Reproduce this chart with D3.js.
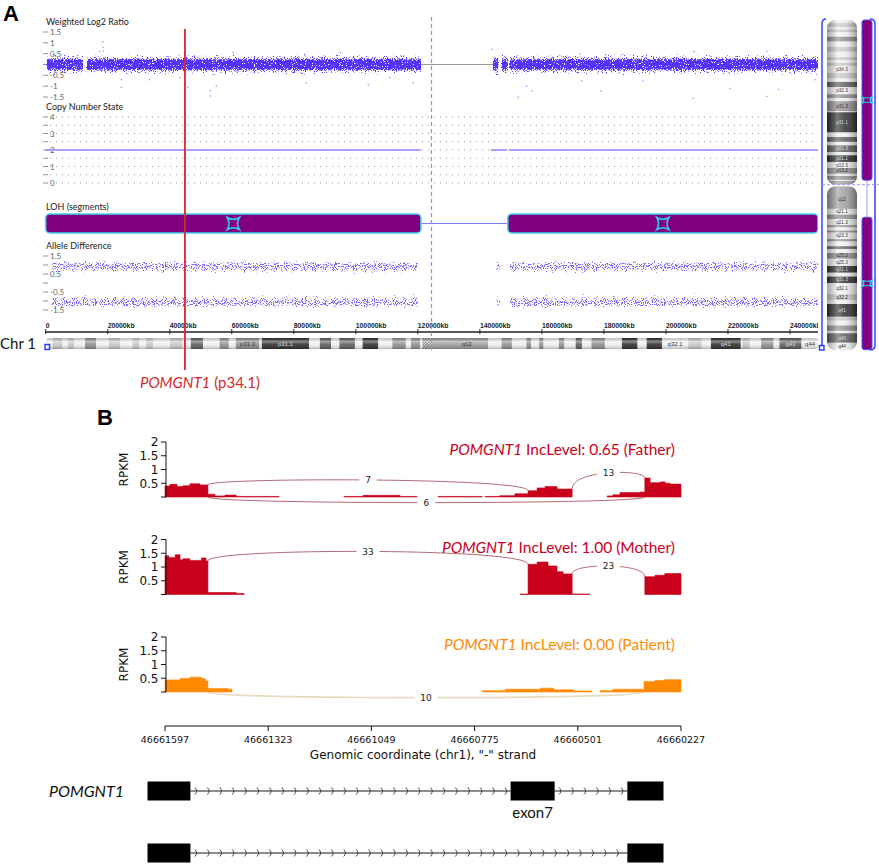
<!DOCTYPE html>
<html>
<head>
<meta charset="utf-8">
<script src="https://cdn.jsdelivr.net/npm/d3@7"></script>
<style>
  body { margin: 0; background: #fff; }
  svg { display: block; }
</style>
</head>
<body>
<svg id="fig" width="879" height="868"></svg>
<script>
// ---- panel A data (positions in Mb along chr1) ----
const chrLengthMb = 249.25;
const centromereMb = 124.4;
const geneMarkMb = 44.9;
const axisTicksKb = [0, 20000, 40000, 60000, 80000, 100000, 120000, 140000, 160000, 180000, 200000, 220000, 240000];

const cytoBands = [
  ['p36.33', 0, 2.3, 'gneg'], ['p36.32', 2.3, 5.4, 'gpos25'], ['p36.31', 5.4, 7.2, 'gneg'],
  ['p36.23', 7.2, 9.2, 'gpos25'], ['p36.22', 9.2, 12.7, 'gneg'], ['p36.21', 12.7, 16.2, 'gpos50'],
  ['p36.13', 16.2, 20.4, 'gneg'], ['p36.12', 20.4, 23.9, 'gpos25'], ['p36.11', 23.9, 28.0, 'gneg'],
  ['p35.3', 28.0, 30.2, 'gpos25'], ['p35.2', 30.2, 32.4, 'gneg'], ['p35.1', 32.4, 34.6, 'gpos25'],
  ['p34.3', 34.6, 40.1, 'gneg'], ['p34.2', 40.1, 44.1, 'gpos25'], ['p34.1', 44.1, 46.8, 'gneg'],
  ['p33', 46.8, 50.7, 'gpos75'], ['p32.3', 50.7, 56.1, 'gneg'], ['p32.2', 56.1, 59.0, 'gpos50'],
  ['p32.1', 59.0, 61.3, 'gneg'], ['p31.3', 61.3, 68.9, 'gpos50'], ['p31.2', 68.9, 69.7, 'gneg'],
  ['p31.1', 69.7, 84.9, 'gpos100'], ['p22.3', 84.9, 88.4, 'gneg'], ['p22.2', 88.4, 92.0, 'gpos75'],
  ['p22.1', 92.0, 94.7, 'gneg'], ['p21.3', 94.7, 99.7, 'gpos75'], ['p21.2', 99.7, 102.2, 'gneg'],
  ['p21.1', 102.2, 107.2, 'gpos100'], ['p13.3', 107.2, 111.8, 'gneg'], ['p13.2', 111.8, 116.1, 'gpos50'],
  ['p13.1', 116.1, 117.8, 'gneg'], ['p12', 117.8, 120.7, 'gpos50'], ['p11.2', 120.7, 121.5, 'gneg'],
  ['p11.1', 121.5, 125.0, 'acen'], ['q11', 125.0, 128.9, 'gvar'], ['q12', 128.9, 142.6, 'gvar'],
  ['q21.1', 142.6, 147.0, 'gneg'], ['q21.2', 147.0, 150.3, 'gpos50'], ['q21.3', 150.3, 155.0, 'gneg'],
  ['q22', 155.0, 156.5, 'gpos50'], ['q23.1', 156.5, 159.1, 'gneg'], ['q23.2', 159.1, 160.5, 'gpos50'],
  ['q23.3', 160.5, 165.5, 'gneg'], ['q24.1', 165.5, 167.2, 'gpos50'], ['q24.2', 167.2, 170.9, 'gneg'],
  ['q24.3', 170.9, 172.9, 'gpos75'], ['q25.1', 172.9, 176.0, 'gneg'], ['q25.2', 176.0, 180.3, 'gpos50'],
  ['q25.3', 180.3, 185.8, 'gneg'], ['q31.1', 185.8, 190.8, 'gpos100'], ['q31.2', 190.8, 193.8, 'gneg'],
  ['q31.3', 193.8, 198.7, 'gpos100'], ['q32.1', 198.7, 207.2, 'gneg'], ['q32.2', 207.2, 211.5, 'gpos25'],
  ['q32.3', 211.5, 214.5, 'gneg'], ['q41', 214.5, 224.1, 'gpos100'], ['q42.11', 224.1, 224.6, 'gneg'],
  ['q42.12', 224.6, 227.0, 'gpos25'], ['q42.13', 227.0, 230.7, 'gneg'], ['q42.2', 230.7, 234.7, 'gpos50'],
  ['q42.3', 234.7, 236.6, 'gneg'], ['q43', 236.6, 243.7, 'gpos75'], ['q44', 243.7, 249.25, 'gneg']
];
const bandLabelsH = ['p31.3', 'p31.1', 'q12', 'q32.1', 'q41', 'q43', 'q44'];
const bandLabelsV = ['p34.3', 'p32.3', 'p31.3', 'p31.1', 'p21.3', 'p21.1', 'p13.3', 'p13.2', 'q12', 'q21.1',
  'q21.3', 'q23.3', 'q25.2', 'q25.3', 'q31.1', 'q31.3', 'q32.1', 'q32.2', 'q41', 'q43', 'q44'];

// [startMb, endMb, centre, half-width]
const log2Segments = [[0.3, 12.0, 0, 0.5], [13.2, 121.0, 0, 0.5], [144.2, 146.0, 0, 0.55], [147.0, 149.0, 0, 0.55], [149.5, 249.0, 0, 0.5]];
const log2Outliers = [
  [18.5, 1.05], [18.5, 0.8], [18.6, 0.62], [17.4, 0.6], [24.4, -0.7], [24.4, -1.05], [33.5, -0.7], [43.2, -0.6],
  [45.8, -1.05], [53.1, -1.45], [53.1, -1.2], [55.0, -1.0], [60.4, 0.55], [84.0, -0.85], [95.0, 0.55],
  [104.0, -0.93], [111.0, -0.6], [118.5, -0.85], [144.0, 0.7], [152.4, -1.5], [155.0, -1.0], [156.7, -1.23],
  [172.2, 0.5], [172.8, -0.75], [179.0, -1.23], [192.5, -0.75], [208.8, -1.55], [209.0, 0.6], [220.6, -1.1],
  [232.5, -1.47], [232.5, 0.6], [236.3, -1.15], [248.0, -0.7]
];
const log2Ticks = [1.5, 1, 0.5, 0, -0.5, -1, -1.5];
const log2Gap = [121.0, 144.2];

const cnLevels = [4, 3.5, 3, 2.5, 2, 1.5, 1, 0.5, 0];
const cnLabels = [4, 3, 2, 1, 0];
const cnSegments = [[0, 121.0, 2], [143.5, 148.8, 2], [149.4, 249.0, 2]];

const lohSegments = [[0, 121.0], [149.0, 249.0]];

const alleleSegments = [
  [2.0, 120.0, 0.9, 0.55], [2.0, 120.0, -1.05, 0.55],
  [145.3, 146.5, 0.9, 0.55], [145.3, 146.5, -1.05, 0.55],
  [149.7, 249.0, 0.9, 0.55], [149.7, 249.0, -1.05, 0.55]
];
const alleleTicks = [1.5, 1, 0.5, 0, -0.5, -1, -1.5];
const alleleLabels = [1.5, 0.5, -0.5, -1.5];

// ---- panel B data (chr1 coordinates, "-" strand so left is larger) ----
const regionStart = 46661597;
const regionEnd = 46660227;
const coordTicks = [46661597, 46661323, 46661049, 46660775, 46660501, 46660227];
const rpkmTicks = [0, 0.5, 1, 1.5, 2];
const rpkmLabels = [0.5, 1, 1.5, 2];

// [from, to, RPKM]
const fatherCov = [
  [46661597, 46661584, 0.40], [46661584, 46661565, 0.46], [46661565, 46661549, 0.38], [46661549, 46661531, 0.41],
  [46661531, 46661504, 0.48], [46661504, 46661483, 0.44], [46661483, 46661464, 0.10], [46661464, 46661438, 0.04],
  [46661438, 46661408, 0.07], [46661408, 46661294, 0.02],
  [46661122, 46661071, 0.02], [46661071, 46660973, 0.06], [46660973, 46660928, 0.02],
  [46660872, 46660755, 0.02],
  [46660747, 46660708, 0.02], [46660708, 46660668, 0.05], [46660668, 46660633, 0.12],
  [46660633, 46660609, 0.23], [46660609, 46660588, 0.33], [46660588, 46660556, 0.38], [46660556, 46660516, 0.29],
  [46660423, 46660408, 0.04], [46660408, 46660389, 0.08], [46660389, 46660336, 0.16], [46660336, 46660323, 0.18],
  [46660323, 46660309, 0.69], [46660309, 46660283, 0.52], [46660283, 46660269, 0.55], [46660269, 46660256, 0.50],
  [46660256, 46660227, 0.47]
];
const motherCov = [
  [46661597, 46661587, 1.41], [46661587, 46661570, 1.35], [46661570, 46661557, 1.45], [46661557, 46661549, 1.26],
  [46661549, 46661531, 1.30], [46661531, 46661500, 1.24], [46661500, 46661488, 1.33], [46661488, 46661483, 1.22],
  [46661483, 46661408, 0.07], [46661408, 46661387, 0.04],
  [46660654, 46660633, 0.02], [46660633, 46660609, 1.10], [46660609, 46660580, 1.18], [46660580, 46660556, 1.04],
  [46660556, 46660540, 0.83], [46660540, 46660516, 0.75], [46660516, 46660469, 0.02],
  [46660323, 46660296, 0.65], [46660296, 46660270, 0.70], [46660270, 46660227, 0.76]
];
const patientCov = [
  [46661597, 46661557, 0.44], [46661557, 46661531, 0.49], [46661531, 46661500, 0.54], [46661500, 46661490, 0.49],
  [46661490, 46661483, 0.40], [46661483, 46661430, 0.13], [46661430, 46661419, 0.10],
  [46660754, 46660694, 0.05], [46660694, 46660600, 0.10], [46660600, 46660565, 0.14], [46660565, 46660512, 0.08],
  [46660512, 46660463, 0.04],
  [46660442, 46660408, 0.05], [46660408, 46660325, 0.10], [46660325, 46660296, 0.38], [46660296, 46660270, 0.42],
  [46660270, 46660227, 0.45]
];
// [donor, acceptor, reads, side]
const fatherJunctions = [[46661483, 46660633, 7, 'up'], [46660516, 46660323, 13, 'up'], [46661483, 46660323, 6, 'down']];
const motherJunctions = [[46661483, 46660633, 33, 'up'], [46660516, 46660323, 23, 'up']];
const patientJunctions = [[46661483, 46660325, 10, 'down']];

const sampleNames = ['Father', 'Mother', 'Patient'];
const incLevels = ['0.65', '1.00', '0.00'];
const sampleColors = ['#c9001c', '#c9001c', '#ff8a00'];

const transcriptExons = [
  [[46661597, 46661483], [46660633, 46660516], [46660323, 46660227]],
  [[46661597, 46661483], [46660323, 46660227]]
];

// ---- drawing ----
const svg = d3.select('#fig');
const defs = svg.append('defs');
const labelFont = 'Lato, "Open Sans", sans-serif';
const mplFont = '"DejaVu Sans", sans-serif';

// dotted "scatter cloud" look: noise thresholded against the band's alpha
function speckle(id, freq, seed, thresh, falloff, color) {
  const c = d3.color(color);
  const f = defs.append('filter').attr('id', id)
    .attr('filterUnits', 'userSpaceOnUse').attr('x', 0).attr('y', 0).attr('width', 879).attr('height', 868)
    .attr('color-interpolation-filters', 'sRGB');
  f.append('feTurbulence').attr('type', 'fractalNoise').attr('baseFrequency', freq)
    .attr('numOctaves', 1).attr('seed', seed).attr('result', 'noise');
  f.append('feColorMatrix').attr('in', 'noise').attr('type', 'matrix')
    .attr('values', '0 0 0 0 0  0 0 0 0 0  0 0 0 0 0  1 0 0 0 0').attr('result', 'na');
  f.append('feComposite').attr('in', 'na').attr('in2', 'SourceAlpha').attr('operator', 'arithmetic')
    .attr('k1', 0).attr('k2', 1).attr('k3', falloff).attr('k4', -falloff).attr('result', 'sum');
  f.append('feColorMatrix').attr('in', 'sum').attr('type', 'matrix')
    .attr('values', `0 0 0 0 ${c.r / 255}  0 0 0 0 ${c.g / 255}  0 0 0 0 ${c.b / 255}  0 0 0 14 ${-14 * thresh}`)
    .attr('result', 'dots');
  f.append('feComponentTransfer').attr('in', 'SourceAlpha').attr('result', 'mask')
    .append('feFuncA').attr('type', 'linear').attr('slope', 20).attr('intercept', 0);
  f.append('feComposite').attr('in', 'dots').attr('in2', 'mask').attr('operator', 'in');
}
speckle('spk-log2', 0.9, 4, 0.27, 0.5, '#5232ff');
speckle('spk-ad', 0.9, 9, 0.5, 0.35, '#7864ff');

const bandGrad = defs.append('linearGradient').attr('id', 'band-grad').attr('x1', 0).attr('x2', 0).attr('y1', 0).attr('y2', 1);
[[0, 0.02], [0.2, 0.45], [0.35, 0.9], [0.5, 1], [0.65, 0.9], [0.8, 0.45], [1, 0.02]].forEach(([o, a]) =>
  bandGrad.append('stop').attr('offset', o).attr('stop-color', '#000').attr('stop-opacity', a));

const hGrad = defs.append('linearGradient').attr('id', 'h-shade').attr('x1', 0).attr('x2', 0).attr('y1', 0).attr('y2', 1);
[[0, '#000', 0.15], [0.3, '#fff', 0.45], [0.6, '#fff', 0.1], [1, '#000', 0.25]].forEach(([o, c, a]) =>
  hGrad.append('stop').attr('offset', o).attr('stop-color', c).attr('stop-opacity', a));
const vGrad = defs.append('linearGradient').attr('id', 'v-shade').attr('x1', 0).attr('x2', 1).attr('y1', 0).attr('y2', 0);
[[0, '#000', 0.3], [0.35, '#fff', 0.35], [0.6, '#fff', 0.15], [1, '#000', 0.35]].forEach(([o, c, a]) =>
  vGrad.append('stop').attr('offset', o).attr('stop-color', c).attr('stop-opacity', a));

const hatch = defs.append('pattern').attr('id', 'acen').attr('patternUnits', 'userSpaceOnUse')
  .attr('width', 3).attr('height', 3);
hatch.append('rect').attr('width', 3).attr('height', 3).attr('fill', '#bbb');
hatch.append('path').attr('d', 'M0,3 L3,0 M0,0 L3,3').attr('stroke', '#666').attr('stroke-width', 0.6);

const bandFill = { gneg: '#efefef', gpos25: '#c6c6c6', gpos50: '#8e8e8e', gpos75: '#5c5c5c', gpos100: '#2f2f2f', gvar: '#9c9c9c', acen: 'url(#acen)' };
const darkBand = s => s === 'gpos75' || s === 'gpos100';

// ===== Panel A =====
const xA = d3.scaleLinear().domain([0, 240]).range([45.7, 790]);
const yLog = d3.scaleLinear().domain([-1.5, 1.5]).range([97, 32]);
const yCN = d3.scaleLinear().domain([0, 4]).range([183, 117]);
const yAD = d3.scaleLinear().domain([-1.5, 1.5]).range([310, 256]);
const plotRight = xA(chrLengthMb);

defs.append('clipPath').attr('id', 'clipA').append('rect')
  .attr('x', 0).attr('y', 0).attr('width', 818).attr('height', 400);

const gA = svg.append('g').attr('clip-path', 'url(#clipA)');

svg.append('text').attr('x', 3).attr('y', 21).text('A')
  .attr('font-family', 'Liberation Sans, Arial, sans-serif').attr('font-weight', 'bold').attr('font-size', 22);

function panelTitle(text, y) {
  gA.append('text').attr('x', 46).attr('y', y).text(text)
    .attr('font-family', labelFont).attr('font-size', 9).attr('fill', '#222');
}
function dashTicks(values, scale, labels) {
  values.forEach(v => {
    gA.append('line').attr('x1', 43).attr('x2', 48).attr('y1', scale(v)).attr('y2', scale(v))
      .attr('stroke', '#777').attr('stroke-width', 0.8);
    if (labels.includes(v)) {
      gA.append('text').attr('x', 50).attr('y', scale(v) + 3).text(v)
        .attr('font-family', labelFont).attr('font-size', 8).attr('fill', '#666');
    }
  });
}

// weighted log2 ratio
panelTitle('Weighted Log2 Ratio', 24.5);
dashTicks(log2Ticks, yLog, log2Ticks);
gA.append('line').attr('x1', xA(log2Gap[0])).attr('x2', xA(log2Gap[1]))
  .attr('y1', yLog(0)).attr('y2', yLog(0)).attr('stroke', '#999').attr('stroke-width', 1);
gA.append('g').attr('filter', 'url(#spk-log2)')
  .selectAll('rect').data(log2Segments).join('rect')
  .attr('x', d => xA(d[0])).attr('width', d => xA(d[1]) - xA(d[0]))
  .attr('y', d => yLog(d[2] + d[3])).attr('height', d => yLog(d[2] - d[3]) - yLog(d[2] + d[3]))
  .attr('fill', 'url(#band-grad)');
gA.append('g').selectAll('rect').data(log2Outliers).join('rect')
  .attr('x', d => xA(d[0]) - 0.6).attr('y', d => yLog(d[1]) - 0.6).attr('width', 1.3).attr('height', 1.3)
  .attr('fill', '#7a66ff').attr('opacity', 0.75);

// copy number state
panelTitle('Copy Number State', 110);
dashTicks(cnLevels, yCN, cnLabels);
gA.append('g').selectAll('line').data(cnLevels).join('line')
  .attr('x1', 50).attr('x2', plotRight).attr('y1', d => yCN(d)).attr('y2', d => yCN(d))
  .attr('stroke', '#9a9a9a').attr('stroke-width', 1).attr('stroke-dasharray', '1,5');
gA.append('g').selectAll('line').data(cnSegments).join('line')
  .attr('x1', d => xA(d[0])).attr('x2', d => xA(d[1])).attr('y1', d => yCN(d[2])).attr('y2', d => yCN(d[2]))
  .attr('stroke', '#8f84ff').attr('stroke-width', 1.5);

// LOH segments
const star = 'M-6,-6 Q0,-2.5 6,-6 Q2.5,0 6,6 Q0,2.5 -6,6 Q-2.5,0 -6,-6 Z';
panelTitle('LOH (segments)', 210);
gA.append('line').attr('x1', xA(lohSegments[0][1])).attr('x2', xA(lohSegments[1][0]))
  .attr('y1', 223.5).attr('y2', 223.5).attr('stroke', '#7b7bff').attr('stroke-width', 1);
gA.append('g').selectAll('rect').data(lohSegments).join('rect')
  .attr('x', d => xA(d[0])).attr('width', d => xA(d[1]) - xA(d[0]))
  .attr('y', 214).attr('height', 19).attr('rx', 4)
  .attr('fill', '#800080').attr('stroke', '#3fd6ec').attr('stroke-width', 1.5);
gA.append('g').selectAll('path').data(lohSegments).join('path')
  .attr('d', star).attr('transform', d => `translate(${xA((d[0] + d[1]) / 2)},223.5)`)
  .attr('fill', 'none').attr('stroke', '#2fd0ea').attr('stroke-width', 1.6);

// allele difference
panelTitle('Allele Difference', 248.5);
dashTicks(alleleTicks, yAD, alleleLabels);
gA.append('g').attr('filter', 'url(#spk-ad)')
  .selectAll('rect').data(alleleSegments).join('rect')
  .attr('x', d => xA(d[0])).attr('width', d => xA(d[1]) - xA(d[0]))
  .attr('y', d => yAD(d[2] + d[3])).attr('height', d => yAD(d[2] - d[3]) - yAD(d[2] + d[3]))
  .attr('fill', 'url(#band-grad)');

// position axis
const axisY = 332;
gA.append('line').attr('x1', xA(0)).attr('x2', 818).attr('y1', axisY).attr('y2', axisY)
  .attr('stroke', '#222').attr('stroke-width', 1.6);
axisTicksKb.forEach(kb => {
  const x = xA(kb / 1000);
  gA.append('line').attr('x1', x).attr('x2', x).attr('y1', axisY - 3).attr('y2', axisY + 2)
    .attr('stroke', '#222').attr('stroke-width', 1);
  gA.append('text').attr('x', x).attr('y', axisY - 4).text(kb === 0 ? '0' : kb + 'kb')
    .attr('font-family', 'Liberation Sans, Arial, sans-serif').attr('font-weight', 'bold')
    .attr('font-size', 6.8).attr('fill', '#222');
});

// horizontal ideogram
defs.append('clipPath').attr('id', 'clipH').append('rect')
  .attr('x', xA(0)).attr('y', 338).attr('width', xA(chrLengthMb) - xA(0)).attr('height', 11).attr('rx', 4);
const gH = svg.append('g').attr('clip-path', 'url(#clipH)');
gH.selectAll('rect.band').data(cytoBands).join('rect').attr('class', 'band')
  .attr('x', d => xA(d[1])).attr('width', d => xA(d[2]) - xA(d[1]) + 0.3)
  .attr('y', 338).attr('height', 11).attr('fill', d => bandFill[d[3]]);
gH.append('rect').attr('x', xA(0)).attr('y', 338).attr('width', xA(chrLengthMb) - xA(0)).attr('height', 11)
  .attr('fill', 'url(#h-shade)');
gH.selectAll('text').data(cytoBands.filter(d => bandLabelsH.includes(d[0]))).join('text')
  .attr('x', d => xA((d[1] + d[2]) / 2)).attr('y', 345.5).attr('text-anchor', 'middle')
  .text(d => d[0]).attr('font-family', 'Liberation Sans, Arial, sans-serif').attr('font-size', 6)
  .attr('fill', d => darkBand(d[3]) ? '#ddd' : '#333');
svg.append('rect').attr('x', 45).attr('y', 344.5).attr('width', 4.5).attr('height', 5)
  .attr('fill', '#fff').attr('stroke', '#2233ff').attr('stroke-width', 1.4);

svg.append('text').attr('x', 0).attr('y', 349).text('Chr 1')
  .attr('font-family', labelFont).attr('font-size', 15).attr('fill', '#111');

// centromere and gene markers
svg.append('line').attr('x1', xA(centromereMb)).attr('x2', xA(centromereMb)).attr('y1', 17).attr('y2', 350)
  .attr('stroke', '#8d8dff').attr('stroke-width', 1.2).attr('stroke-dasharray', '4,3');
svg.append('line').attr('x1', xA(geneMarkMb)).attr('x2', xA(geneMarkMb)).attr('y1', 29).attr('y2', 370)
  .attr('stroke', '#d42a2a').attr('stroke-width', 1.8);
const geneLbl = svg.append('text').attr('x', 140).attr('y', 388)
  .attr('font-family', labelFont).attr('font-size', 15).attr('fill', '#d42a2a');
geneLbl.append('tspan').attr('font-style', 'italic').text('POMGNT1');
geneLbl.append('tspan').text(' (p34.1)');

// vertical ideogram on the right
const yIdeo = d3.scaleLinear().domain([0, chrLengthMb]).range([20, 350]);
const cenY = yIdeo(125.0);
const clipV = defs.append('clipPath').attr('id', 'clipV');
clipV.append('rect').attr('x', 827).attr('y', yIdeo(0)).attr('width', 30).attr('height', cenY - 1 - yIdeo(0)).attr('rx', 8);
clipV.append('rect').attr('x', 827).attr('y', cenY + 1).attr('width', 30).attr('height', yIdeo(chrLengthMb) - cenY - 1).attr('rx', 8);
const gV = svg.append('g').attr('clip-path', 'url(#clipV)');
gV.selectAll('rect.band').data(cytoBands).join('rect').attr('class', 'band')
  .attr('x', 827).attr('width', 30)
  .attr('y', d => yIdeo(d[1])).attr('height', d => yIdeo(d[2]) - yIdeo(d[1]) + 0.3)
  .attr('fill', d => d[3] === 'acen' ? '#9c9c9c' : bandFill[d[3]]);
gV.append('rect').attr('x', 827).attr('y', 20).attr('width', 30).attr('height', 330).attr('fill', 'url(#v-shade)');
gV.selectAll('text').data(cytoBands.filter(d => bandLabelsV.includes(d[0]))).join('text')
  .attr('x', 842).attr('y', d => yIdeo((d[1] + d[2]) / 2) + 1.6).attr('text-anchor', 'middle')
  .text(d => d[0]).attr('font-family', 'Liberation Sans, Arial, sans-serif').attr('font-size', 4.6)
  .attr('fill', d => darkBand(d[3]) ? '#ddd' : '#333');

svg.append('path').attr('d', 'M826,19 Q822,19 822,24 L822,350').attr('fill', 'none')
  .attr('stroke', '#3344ff').attr('stroke-width', 1.5);
svg.append('rect').attr('x', 819.5).attr('y', 345.5).attr('width', 4.5).attr('height', 4.5)
  .attr('fill', '#fff').attr('stroke', '#2233ff').attr('stroke-width', 1.4);
svg.append('path').attr('d', 'M870,19 Q875,19 875,24 L875,345 Q875,350 870,350').attr('fill', 'none')
  .attr('stroke', '#3344ff').attr('stroke-width', 1.5);
svg.append('line').attr('x1', 822).attr('x2', 879).attr('y1', yIdeo(centromereMb)).attr('y2', yIdeo(centromereMb))
  .attr('stroke', '#9a9aff').attr('stroke-width', 1).attr('stroke-dasharray', '3,2');
svg.append('line').attr('x1', 867).attr('x2', 867).attr('y1', yIdeo(lohSegments[0][1])).attr('y2', yIdeo(lohSegments[1][0]))
  .attr('stroke', '#9a9aff').attr('stroke-width', 1);
svg.append('g').selectAll('rect').data(lohSegments).join('rect')
  .attr('x', 862).attr('width', 10).attr('y', d => yIdeo(d[0])).attr('height', d => yIdeo(d[1]) - yIdeo(d[0]))
  .attr('rx', 2.5).attr('fill', '#800080').attr('stroke', '#5050ff').attr('stroke-width', 1);
svg.append('g').selectAll('path').data(lohSegments).join('path')
  .attr('d', star).attr('transform', d => `translate(867,${yIdeo((d[0] + d[1]) / 2)}) scale(0.8,0.5)`)
  .attr('fill', 'none').attr('stroke', '#2fd0ea').attr('stroke-width', 2);

// ===== Panel B =====
svg.append('text').attr('x', 97).attr('y', 425).text('B')
  .attr('font-family', 'Liberation Sans, Arial, sans-serif').attr('font-weight', 'bold').attr('font-size', 22);

const xB = d3.scaleLinear().domain([regionStart, regionEnd]).range([165, 681]);
const covSets = [fatherCov, motherCov, patientCov];
const juncSets = [fatherJunctions, motherJunctions, patientJunctions];

function covGroups(cov) {
  const groups = [];
  cov.forEach(s => {
    const last = groups[groups.length - 1];
    if (last && last[last.length - 1][0] === s[0]) last.push([s[0], s[2]], [s[1], s[2]]);
    else groups.push([[s[0], s[2]], [s[1], s[2]]]);
  });
  return groups;
}
function covLeft(cov, pos) {
  const s = cov.find(d => d[0] > pos && d[1] <= pos);
  return s ? s[2] : 0;
}
function covRight(cov, pos) {
  const s = cov.find(d => d[0] >= pos && d[1] < pos);
  return s ? s[2] : 0;
}

sampleNames.forEach((name, i) => {
  const base = 497 + i * 97.5;
  const yB = d3.scaleLinear().domain([0, 2]).range([base, base - 55]);
  const g = svg.append('g');
  const color = sampleColors[i];
  const cov = covSets[i];

  // junction arcs (drawn below coverage)
  juncSets[i].forEach(([a, b, n, side]) => {
    const x0 = xB(a), x1 = xB(b);
    let y0, y1, cy;
    if (side === 'up') {
      y0 = yB(covLeft(cov, a));
      y1 = yB(covRight(cov, b));
      cy = Math.min(y0, y1) - (6 + 0.22 * n);
    } else {
      y0 = y1 = yB(0);
      cy = yB(0) + 7.5;
    }
    g.append('path').attr('d', `M${x0},${y0} C${x0},${cy} ${x1},${cy} ${x1},${y1}`)
      .attr('fill', 'none')
      .attr('stroke', i === 2 ? '#e6dbbf' : '#a3505c')
      .attr('stroke-opacity', i === 2 ? 1 : 0.85)
      .attr('stroke-width', i === 2 ? 1.6 : 1);
    const mx = (x0 + x1) / 2, my = 0.125 * y0 + 0.75 * cy + 0.125 * y1;
    const w = String(n).length * 5.5 + 12;
    g.append('rect').attr('x', mx - w / 2).attr('y', my - 5).attr('width', w).attr('height', 10).attr('fill', '#fff');
    g.append('text').attr('x', mx).attr('y', my + 3.2).attr('text-anchor', 'middle').text(n)
      .attr('font-family', mplFont).attr('font-size', 9).attr('fill', '#222');
  });

  const area = d3.area().x(d => xB(d[0])).y0(yB(0)).y1(d => yB(d[1]));
  g.selectAll('path.cov').data(covGroups(cov)).join('path').attr('class', 'cov')
    .attr('d', area).attr('fill', color).attr('stroke', color).attr('stroke-width', 0.6);

  // y axis
  g.append('line').attr('x1', 166).attr('x2', 166).attr('y1', yB(0)).attr('y2', yB(2))
    .attr('stroke', '#111').attr('stroke-width', 1);
  rpkmTicks.forEach(v => {
    g.append('line').attr('x1', 161).attr('x2', 166).attr('y1', yB(v)).attr('y2', yB(v))
      .attr('stroke', '#111').attr('stroke-width', 1);
  });
  g.selectAll('text.tick').data(rpkmLabels).join('text').attr('class', 'tick')
    .attr('x', 158.5).attr('y', d => yB(d) + 4.3).attr('text-anchor', 'end').text(d => d)
    .attr('font-family', mplFont).attr('font-size', 12).attr('fill', '#111');
  g.append('text').attr('transform', `translate(128,${yB(1)}) rotate(-90)`).attr('text-anchor', 'middle')
    .text('RPKM').attr('font-family', mplFont).attr('font-size', 12).attr('fill', '#111');

  const lbl = g.append('text').attr('x', 675).attr('y', yB(2) + 13).attr('text-anchor', 'end')
    .attr('font-family', labelFont).attr('font-size', 15.5).attr('fill', color);
  lbl.append('tspan').attr('font-style', 'italic').text('POMGNT1');
  lbl.append('tspan').text(` IncLevel: ${incLevels[i]} (${name})`);
});

// genomic coordinate axis
const axB = svg.append('g');
axB.append('line').attr('x1', xB(regionStart)).attr('x2', xB(regionEnd)).attr('y1', 726).attr('y2', 726)
  .attr('stroke', '#111').attr('stroke-width', 1);
coordTicks.forEach(t => {
  axB.append('line').attr('x1', xB(t)).attr('x2', xB(t)).attr('y1', 726).attr('y2', 731)
    .attr('stroke', '#111').attr('stroke-width', 1);
  axB.append('text').attr('x', xB(t)).attr('y', 742.5).attr('text-anchor', 'middle').text(t)
    .attr('font-family', mplFont).attr('font-size', 9.5).attr('fill', '#111');
});
axB.append('text').attr('x', 423).attr('y', 759).attr('text-anchor', 'middle')
  .text('Genomic coordinate (chr1), "-" strand')
  .attr('font-family', mplFont).attr('font-size', 12).attr('fill', '#111');

// transcript models, drawn on the same scale shifted left
const geneShift = -17.5;
const gGene = svg.append('g').attr('transform', `translate(${geneShift},0)`);
transcriptExons.forEach((exons, k) => {
  const cy = k === 0 ? 791 : 853;
  for (let j = 0; j < exons.length - 1; j++) {
    const a = xB(exons[j][1]), b = xB(exons[j + 1][0]);
    gGene.append('line').attr('x1', a).attr('x2', b).attr('y1', cy).attr('y2', cy)
      .attr('stroke', '#666').attr('stroke-width', 1.6);
    for (let x = a + 6; x < b - 3; x += 12.4) {
      gGene.append('path').attr('d', `M${x - 1.5},${cy - 3.5} Q${x + 2},${cy} ${x - 1.5},${cy + 3.5}`)
        .attr('fill', 'none').attr('stroke', '#333').attr('stroke-width', 0.9);
    }
  }
  gGene.selectAll(null).data(exons).join('rect')
    .attr('x', d => xB(d[0])).attr('width', d => xB(d[1]) - xB(d[0]))
    .attr('y', cy - 9.5).attr('height', 19).attr('fill', '#000');
});
gGene.append('text').attr('x', xB((transcriptExons[0][1][0] + transcriptExons[0][1][1]) / 2)).attr('y', 818)
  .attr('text-anchor', 'middle').text('exon7').attr('font-family', labelFont).attr('font-size', 15).attr('fill', '#111');
svg.append('text').attr('x', 49).attr('y', 797).text('POMGNT1')
  .attr('font-family', labelFont).attr('font-style', 'italic').attr('font-size', 16).attr('fill', '#111');
</script>
</body>
</html>
